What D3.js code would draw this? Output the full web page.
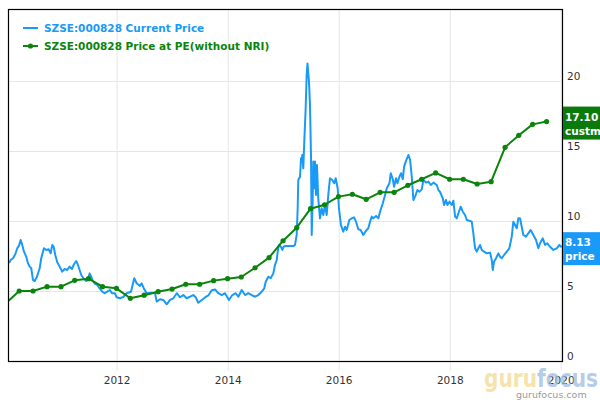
<!DOCTYPE html>
<html>
<head>
<meta charset="utf-8">
<script src="https://cdn.jsdelivr.net/npm/d3@7"></script>
<style>
  html, body { margin: 0; padding: 0; background: #fff; }
  svg { display: block; }
</style>
</head>
<body>
<svg id="chart" width="600" height="400"></svg>
<script>
// ---------- DATA ----------
const seriesNames = ["SZSE:000828 Current Price", "SZSE:000828 Price at PE(without NRI)"];

// Daily price (decimal years)
const priceYears = [
  2010.060,2010.090,2010.132,2010.173,2010.209,2010.240,2010.270,2010.299,2010.330,2010.371,
  2010.402,2010.432,2010.461,2010.492,2010.523,2010.564,2010.613,2010.641,2010.690,2010.732,
  2010.775,2010.811,2010.840,2010.865,2010.894,2010.930,2010.973,2011.020,2011.063,2011.110,
  2011.153,2011.195,2011.231,2011.272,2011.303,2011.333,2011.362,2011.411,2011.452,2011.483,
  2011.514,2011.542,2011.573,2011.604,2011.650,2011.694,2011.741,2011.784,2011.831,2011.879,
  2011.915,2011.969,2012.000,2012.059,2012.119,2012.180,2012.258,2012.317,2012.360,2012.420,
  2012.450,2012.497,2012.541,2012.631,2012.690,2012.721,2012.780,2012.840,2012.901,2012.960,
  2013.020,2013.081,2013.141,2013.200,2013.261,2013.321,2013.380,2013.423,2013.470,2013.532,
  2013.591,2013.650,2013.712,2013.771,2013.831,2013.892,2013.951,2014.023,2014.083,2014.144,
  2014.191,2014.252,2014.312,2014.371,2014.432,2014.492,2014.551,2014.613,2014.659,2014.685,
  2014.732,2014.775,2014.822,2014.852,2014.883,2014.901,2014.924,2014.960,2014.984,2015.009,
  2015.032,2015.182,2015.213,2015.243,2015.261,2015.272,2015.303,2015.321,2015.333,2015.344,
  2015.362,2015.380,2015.405,2015.423,2015.438,2015.465,2015.483,2015.501,2015.514,2015.532,
  2015.542,2015.560,2015.573,2015.591,2015.609,2015.632,2015.663,2015.694,2015.723,2015.753,
  2015.784,2015.813,2015.843,2015.885,2015.921,2015.946,2015.982,2016.005,2016.041,2016.083,
  2016.114,2016.144,2016.191,2016.234,2016.276,2016.312,2016.353,2016.396,2016.443,2016.492,
  2016.533,2016.564,2016.595,2016.623,2016.672,2016.714,2016.744,2016.793,2016.834,2016.865,
  2016.912,2016.937,2016.973,2016.996,2017.032,2017.056,2017.092,2017.123,2017.153,2017.177,
  2017.213,2017.254,2017.285,2017.315,2017.344,2017.375,2017.416,2017.452,2017.495,2017.524,
  2017.573,2017.614,2017.658,2017.705,2017.766,2017.795,2017.825,2017.874,2017.897,2017.933,
  2017.957,2017.993,2018.036,2018.065,2018.096,2018.126,2018.155,2018.198,2018.234,2018.276,
  2018.306,2018.353,2018.396,2018.425,2018.456,2018.486,2018.515,2018.546,2018.577,2018.618,
  2018.667,2018.726,2018.757,2018.775,2018.798,2018.834,2018.876,2018.906,2018.937,2018.978,
  2019.027,2019.074,2019.117,2019.146,2019.177,2019.207,2019.236,2019.267,2019.297,2019.326,
  2019.375,2019.416,2019.459,2019.506,2019.555,2019.596,2019.627,2019.676,2019.717,2019.759,
  2019.807,2019.867,2019.928,2019.975,2020.018
];
const priceValues = [
  7.00,7.21,7.34,7.62,8.05,8.24,8.64,8.29,7.81,7.45,
  6.98,6.74,6.62,5.79,5.71,6.02,6.62,7.34,8.05,7.93,
  7.98,7.69,8.29,8.16,7.57,7.05,6.74,6.38,6.57,6.50,
  6.74,6.57,6.91,7.14,6.86,6.50,6.14,5.86,5.71,5.86,
  6.26,6.02,5.71,5.55,5.43,5.19,4.95,4.84,4.95,5.07,
  4.84,4.84,4.55,4.48,4.57,4.84,4.95,5.91,5.55,5.36,
  5.55,5.12,4.84,4.88,4.84,4.24,4.41,4.36,4.05,4.36,
  4.48,4.84,4.55,4.71,4.48,4.59,4.71,4.55,4.16,4.36,
  4.54,4.68,5.05,5.11,4.84,4.71,4.84,4.36,4.71,4.84,
  4.59,5.07,4.71,4.84,4.71,4.59,4.71,4.95,5.19,5.66,
  6.02,5.91,6.26,6.86,7.21,7.81,8.29,8.16,7.93,8.16,
  8.21,8.21,8.29,9.00,10.91,12.93,13.16,14.48,14.24,14.71,
  13.76,15.66,18.05,20.43,21.25,19.95,18.29,14.71,9.00,11.62,
  14.24,12.34,14.24,11.86,14.00,11.62,10.19,10.91,10.43,11.14,
  10.43,11.86,13.05,12.93,12.69,13.05,12.34,10.91,9.71,9.24,
  9.59,9.36,10.07,10.19,10.26,9.95,9.41,9.36,9.00,9.31,
  9.48,9.95,10.31,10.19,10.36,10.19,10.66,11.26,11.86,12.34,
  12.69,13.41,12.98,12.45,13.05,12.69,13.16,13.41,12.98,13.88,
  14.31,14.71,14.36,13.16,11.50,11.74,12.21,12.09,12.26,12.93,
  12.74,12.81,12.57,12.74,12.57,12.21,12.07,11.62,11.14,11.50,
  11.14,11.38,11.14,11.45,10.31,10.19,10.55,11.02,10.66,10.43,
  10.07,10.02,9.95,9.12,8.05,7.81,8.05,8.29,7.93,7.81,
  7.69,7.74,7.21,6.50,7.09,7.34,7.69,7.45,7.34,7.57,
  7.81,8.05,8.88,9.95,9.71,9.48,10.19,10.19,9.59,9.00,
  8.88,9.12,9.36,9.00,8.64,8.05,8.41,8.76,8.29,8.41,
  8.16,7.93,8.05,8.29,8.13
];

// Quarterly "Price at PE (without NRI)"
const peDates = [
  "2009-12-31","2010-03-31","2010-06-30","2010-09-30","2010-12-31",
  "2011-03-31","2011-06-30","2011-09-30","2011-12-31",
  "2012-03-31","2012-06-30","2012-09-30","2012-12-31",
  "2013-03-31","2013-06-30","2013-09-30","2013-12-31",
  "2014-03-31","2014-06-30","2014-09-30","2014-12-31",
  "2015-03-31","2015-06-30","2015-09-30","2015-12-31",
  "2016-03-31","2016-06-30","2016-09-30","2016-12-31",
  "2017-03-31","2017-06-30","2017-09-30","2017-12-31",
  "2018-03-31","2018-06-30","2018-09-30","2018-12-31",
  "2019-03-31","2019-06-30","2019-09-30"
];
const peValues = [
  4.10,5.00,5.00,5.31,5.31,
  5.76,5.88,5.31,5.19,
  4.48,4.70,4.95,5.14,
  5.48,5.48,5.74,5.88,
  6.00,6.66,7.38,8.59,
  9.52,10.88,11.16,11.74,
  11.91,11.55,12.05,12.05,
  12.55,12.98,13.43,12.98,
  12.98,12.64,12.81,15.26,
  16.12,16.90,17.10
];

const yTickValues = [0, 5, 10, 15, 20];
const xTickYears = [2012, 2014, 2016, 2018, 2020];
const xDomainYears = [2010.060, 2020.041];
const yDomain = [0, 25.14];
const lastLabels = [
  { value: 8.13, text1: "8.13", text2: "price", series: 0 },
  { value: 17.10, text1: "17.10", text2: "custmp", series: 1 }
];

// ---------- DRAW ----------
const colors = ["#1a9af7", "#0b840b"];
const W = 600, H = 400;
const plot = { left: 9, top: 9, right: 563, bottom: 361 };

function decYear(v) {
  const yr = Math.floor(v);
  const s = Date.UTC(yr, 0, 1), e = Date.UTC(yr + 1, 0, 1);
  return new Date(s + (v - yr) * (e - s));
}
const parse = d3.utcParse("%Y-%m-%d");

const priceData = priceYears.map((y, i) => ({ date: decYear(y), value: priceValues[i] }));
const peData = peDates.map((d, i) => ({ date: parse(d), value: peValues[i] }));

const x = d3.scaleUtc()
  .domain(xDomainYears.map(decYear))
  .range([plot.left, plot.right]);
const y = d3.scaleLinear()
  .domain(yDomain)
  .range([plot.bottom, plot.top]);

const svg = d3.select("#chart");
const font = "'DejaVu Sans', Verdana, sans-serif";

svg.append("rect").attr("width", W).attr("height", H).attr("fill", "#fff");

svg.append("defs").append("clipPath").attr("id", "clip")
  .append("rect")
  .attr("x", plot.left).attr("y", plot.top)
  .attr("width", plot.right - plot.left).attr("height", plot.bottom - plot.top);

// vertical grid + x axis
const xTicks = xTickYears.map(yr => new Date(Date.UTC(yr, 0, 1)));
const xAxis = d3.axisBottom(x)
  .tickValues(xTicks)
  .tickFormat(d3.utcFormat("%Y"))
  .tickSize(plot.bottom - plot.top + 10)
  .tickPadding(6);
const gx = svg.append("g")
  .attr("transform", `translate(0,${plot.top})`)
  .call(xAxis);
gx.select(".domain").remove();
gx.selectAll(".tick line").attr("stroke", "#e6e6e6").attr("stroke-width", 1);
gx.selectAll(".tick text")
  .attr("fill", "#333").attr("font-family", font).attr("font-size", "10.5px");

// horizontal grid + y axis on the right
const yAxis = d3.axisRight(y)
  .tickValues(yTickValues)
  .tickFormat(d3.format("d"))
  .tickSize(plot.right - plot.left)
  .tickPadding(4);
const gy = svg.append("g")
  .attr("transform", `translate(${plot.left},0)`)
  .call(yAxis);
gy.select(".domain").remove();
gy.selectAll(".tick line").attr("stroke", "#e6e6e6").attr("stroke-width", 1);
gy.selectAll(".tick text")
  .attr("fill", "#333").attr("font-family", font).attr("font-size", "10.5px")
  .attr("dy", "-0.15em");

// series
const clipped = svg.append("g").attr("clip-path", "url(#clip)");
const line = d3.line().x(d => x(d.date)).y(d => y(d.value));

clipped.append("path")
  .datum(priceData)
  .attr("fill", "none")
  .attr("stroke", colors[0])
  .attr("stroke-width", 2)
  .attr("stroke-linejoin", "round")
  .attr("d", line);

clipped.append("path")
  .datum(peData)
  .attr("fill", "none")
  .attr("stroke", colors[1])
  .attr("stroke-width", 2)
  .attr("stroke-linejoin", "round")
  .attr("d", line);

clipped.selectAll("circle.pe")
  .data(peData)
  .join("circle")
  .attr("class", "pe")
  .attr("cx", d => x(d.date))
  .attr("cy", d => y(d.value))
  .attr("r", 2.6)
  .attr("fill", colors[1]);

// plot border
svg.append("rect")
  .attr("x", plot.left - 0.5).attr("y", plot.top + 0.5)
  .attr("width", plot.right - plot.left).attr("height", plot.bottom - plot.top)
  .attr("fill", "none").attr("stroke", "#000").attr("stroke-width", 1.2);

// legend
const legend = svg.append("g").attr("font-family", font).attr("font-weight", "bold").attr("font-size", "10.5px");
seriesNames.forEach((name, i) => {
  const ly = 28 + i * 18;
  const g = legend.append("g").attr("transform", `translate(0,${ly})`);
  g.append("line").attr("x1", 23).attr("x2", 38).attr("y1", 0).attr("y2", 0)
    .attr("stroke", colors[i]).attr("stroke-width", 2);
  if (i === 1) g.append("circle").attr("cx", 30.5).attr("cy", 0).attr("r", 2.6).attr("fill", colors[i]);
  g.append("text").attr("x", 44).attr("y", 4).attr("fill", colors[i]).text(name);
});

// last value labels on the right
const lab = svg.append("g").attr("font-family", font).attr("font-weight", "bold").attr("font-size", "10.5px");
lastLabels.forEach(l => {
  const cy = y(l.value);
  const g = lab.append("g").attr("transform", `translate(${plot.right},${cy})`);
  g.append("rect").attr("x", 0).attr("y", -15).attr("width", 40).attr("height", 33)
    .attr("fill", l.series === 0 ? "#1a9af7" : "#0a7a0a");
  g.append("text").attr("x", 2).attr("y", -1).attr("fill", "#fff").text(l.text1);
  g.append("text").attr("x", 2).attr("y", 13).attr("fill", "#fff").text(l.text2);
});

// watermark
const wm = svg.append("g");
const logo = wm.append("text").attr("x", 484).attr("y", 387)
  .attr("font-family", "'DejaVu Sans', sans-serif").attr("font-weight", "bold")
  .attr("font-size", "24px")
  .attr("textLength", 114).attr("lengthAdjust", "spacingAndGlyphs");
logo.append("tspan").attr("fill", "#f3d98f").attr("fill-opacity", 0.75).text("guru");
logo.append("tspan").attr("fill", "#9dbbe3").attr("fill-opacity", 0.75).text("focus");
wm.append("text").attr("x", 516).attr("y", 398)
  .attr("font-family", "'DejaVu Sans', sans-serif")
  .attr("font-size", "9.5px").attr("fill", "#9a9a9a").text("gurufocus.com");
</script>
</body>
</html>
